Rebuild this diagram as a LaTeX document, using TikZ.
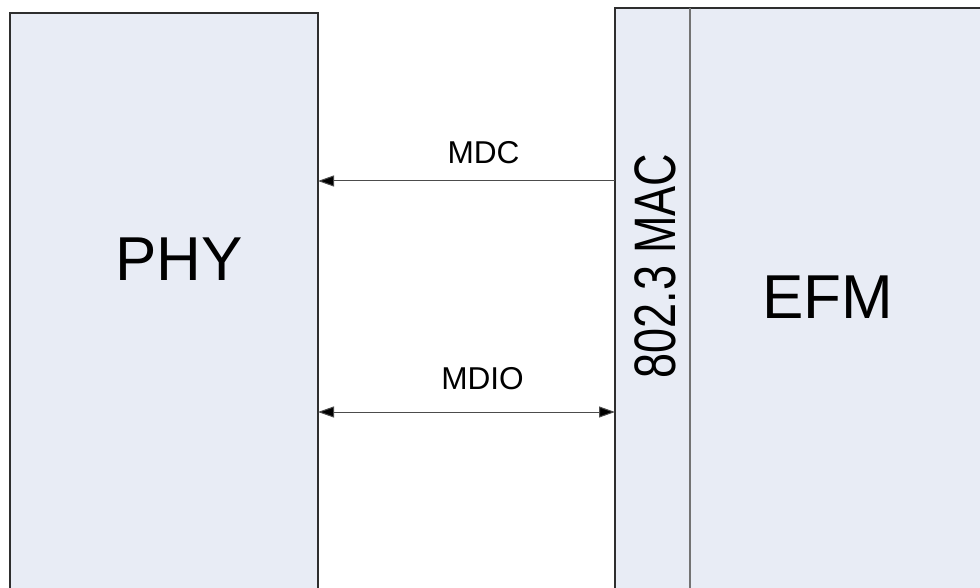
\documentclass[tikz,border=0pt]{standalone}
\usepackage{fontspec}
\setmainfont{Liberation Sans}
\usepackage{tikz}
\usetikzlibrary{arrows.meta,positioning}
\definecolor{boxfill}{HTML}{E8ECF5}
\definecolor{boxline}{HTML}{2E2E2E}

\begin{document}
\begin{tikzpicture}[
  x=0.5pt, y=-0.5pt,
  block/.style={
    rectangle, draw=boxline, line width=0.6pt,
    fill=boxfill, inner sep=0pt, outer sep=0pt
  },
  bigtext/.style={font=\fontsize{31}{31}\selectfont, inner sep=0pt},
  sigtext/.style={font=\fontsize{15.8}{15.8}\selectfont, inner sep=0pt},
  arrow/.style={line width=0.5pt, draw=black!70,
    {Triangle[length=8pt,width=5.5pt,fill=black]}-{Triangle[length=8pt,width=5.5pt,fill=black]}},
  larrow/.style={line width=0.5pt, draw=black!70,
    {Triangle[length=8pt,width=5.5pt,fill=black]}-}
]
\useasboundingbox (0,0) rectangle (980,588);
\clip (0,0) rectangle (980,588);

% Blocks (cut off at the bottom and on the right)
\node[block, minimum width=154pt, minimum height=313.5pt] (phy) at (164,326.5) {};
\node[block, minimum width=37.5pt, minimum height=316pt] (mac) at (652.5,324) {};
\node[block, minimum width=160pt, minimum height=316pt, right=0pt of mac] (efm) {};
\draw[line width=0.8pt, black!55] (mac.north east) -- (mac.south east);

% Block texts
\node[bigtext] (phylabel) at (179,259) {PHY};
\node[bigtext] (efmlabel) at (828,297) {EFM};
\node[font=\fontsize{22.5}{22.5}\selectfont, inner sep=0pt, rotate=90]
  (maclabel) at (655,266) {\scalebox{1}[1.3]{802.3 MAC}};

% Management signals
\coordinate (mdcy) at (0,181);
\coordinate (mdioy) at (0,412);
\draw[larrow] (phy.east |- mdcy) -- node[sigtext, above=8.5pt, xshift=8.5pt] (mdc) {MDC} (mac.west |- mdcy);
\draw[arrow] (phy.east |- mdioy) -- node[sigtext, above=11pt, xshift=8pt] (mdio) {MDIO} (mac.west |- mdioy);

\end{tikzpicture}
\end{document}
